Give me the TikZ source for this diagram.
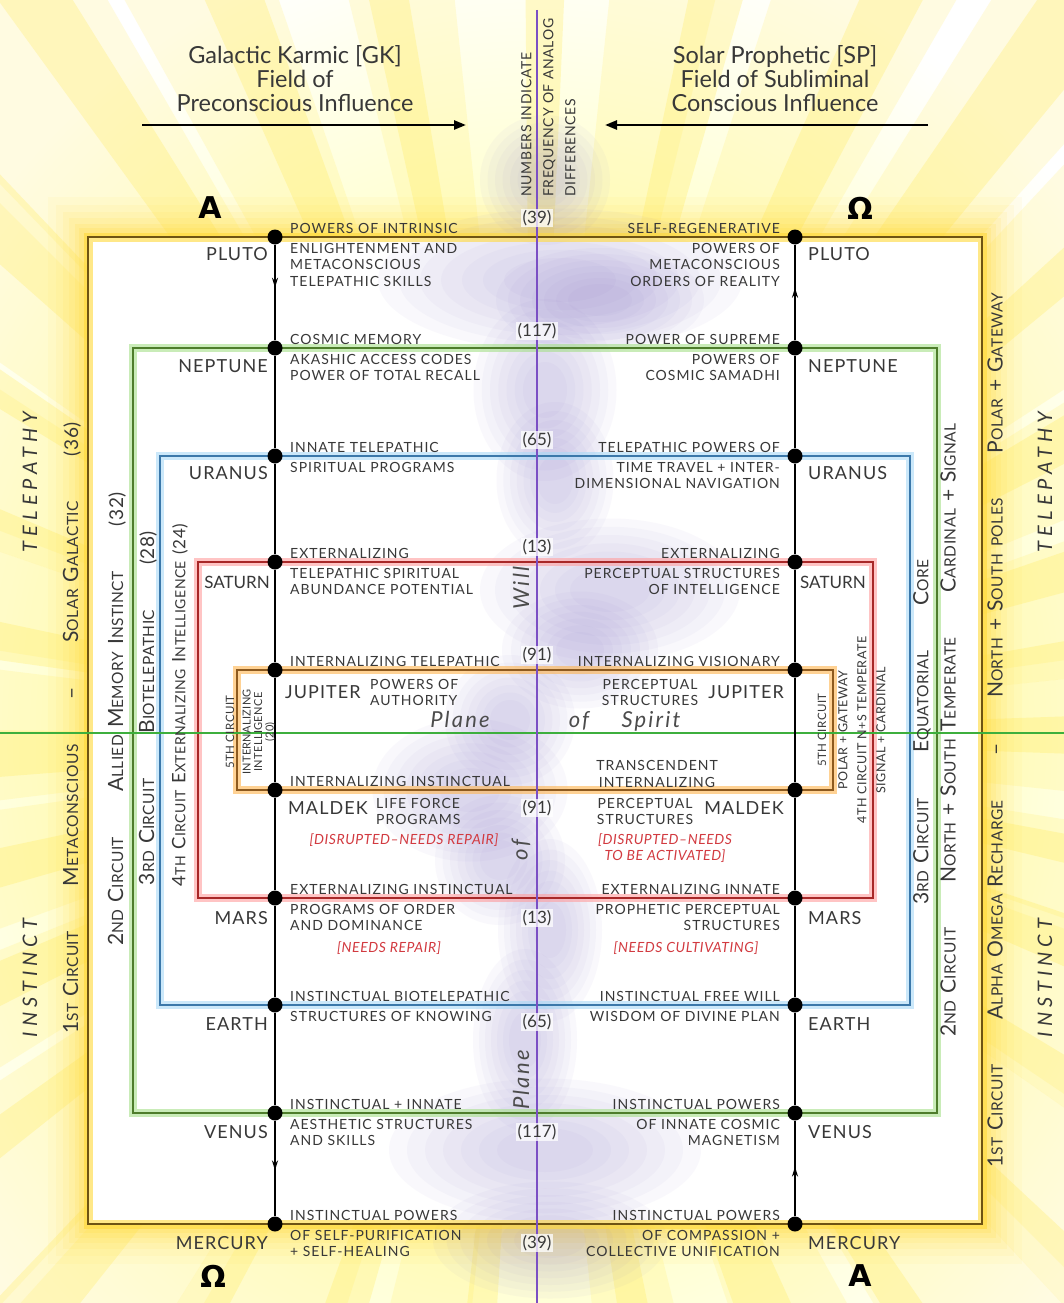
\documentclass[tikz,border=0pt]{standalone}
\usepackage{fontspec}
\setmainfont{Lato}
\newfontfamily\symf{DejaVu Sans}
\usetikzlibrary{arrows.meta,decorations.markings}
\definecolor{txtc}{HTML}{383838}
\definecolor{redt}{HTML}{D23A40}
\definecolor{ybor}{HTML}{6E5413}
\definecolor{yglow}{HTML}{FFD93A}
\definecolor{gbor}{HTML}{4E7D2B}
\definecolor{gglow}{HTML}{A6E08A}
\definecolor{bbor}{HTML}{3B78AA}
\definecolor{bglow}{HTML}{A9DAF7}
\definecolor{rbor}{HTML}{A82828}
\definecolor{rglow}{HTML}{FF9E9E}
\definecolor{obor}{HTML}{8E5A1E}
\definecolor{oglow}{HTML}{FFB44D}
\definecolor{eqc}{HTML}{3DAF3D}
\definecolor{purl}{HTML}{7B4FC4}
\definecolor{hazec}{HTML}{8C7CCB}
\definecolor{rayc}{HTML}{FFE94A}
\newcommand\SCa[2]{{\fontsize{21}{21}\selectfont #1}{\fontsize{15.5}{15.5}\selectfont #2}}
\newcommand\SCb[2]{{\fontsize{18.5}{18.5}\selectfont #1}{\fontsize{14}{14}\selectfont #2}}
\newcommand\gapA{\hspace{45pt}}
\newcommand\wsp{\hspace{7pt}}
\newcommand\haze[4]{\foreach \s in {1.3,1.15,1,0.85,0.7,0.55,0.4}{\fill[hazec,opacity=0.047] (#1,#2) ellipse [x radius=\s*#3, y radius=\s*#4];}}
\begin{document}
\begin{tikzpicture}[x=1pt,y=-1pt,
  lab/.style={font=\fontsize{14}{16.5}\selectfont\addfontfeatures{LetterSpace=7}, text=txtc, inner sep=0pt},
  labL/.style={lab, anchor=north west, align=left},
  labR/.style={lab, anchor=north east, align=right},
  labC/.style={lab, anchor=north, align=center},
  upL/.style={lab, anchor=base west},
  upR/.style={lab, anchor=base east},
  planetL/.style={font=\fontsize{18}{18}\selectfont\addfontfeatures{LetterSpace=6}, text=txtc, inner sep=0pt, anchor=base east},
  planetR/.style={font=\fontsize{18}{18}\selectfont\addfontfeatures{LetterSpace=6}, text=txtc, inner sep=0pt, anchor=base west},
  num/.style={font=\fontsize{17}{17}\selectfont, text=txtc, inner sep=1.5pt, fill=white, fill opacity=0.75, text opacity=1},
  pdot/.style={circle, fill=black, inner sep=0pt, minimum size=15pt},
  redlab/.style={font=\fontsize{14}{16.5}\itshape\selectfont\addfontfeatures{LetterSpace=4}, text=redt, inner sep=0pt, align=center},
  vline/.style={black, line width=2.4pt},
  midarrow/.style={postaction={decorate}, decoration={markings, mark=at position #1 with {\arrow{Stealth[length=10pt,width=6pt]}}}},
  side/.style={text=txtc, inner sep=0pt, rotate=90, font=\addfontfeatures{LetterSpace=3}},
  tiny/.style={font=\fontsize{11.5}{12}\selectfont\addfontfeatures{LetterSpace=4}, text=txtc, inner sep=0pt, rotate=90, align=center},
  bigit/.style={font=\fontsize{22}{22}\itshape\selectfont\addfontfeatures{LetterSpace=10}, text=txtc!90, inner sep=0pt},
  wide/.style={font=\fontsize{20}{20}\itshape\selectfont\addfontfeatures{LetterSpace=25}, text=txtc, inner sep=0pt, rotate=90},
  title/.style={font=\fontsize{23.5}{24}\selectfont, text=txtc, align=center, inner sep=0pt},
  omega/.style={font=\symf\bfseries\fontsize{30}{30}\selectfont, text=black, inner sep=0pt},
  toparrow/.style={line width=2.5pt, -{Triangle[length=12pt,width=9pt]}}
]
\useasboundingbox (0,0) rectangle (1064,1303);
\clip (0,0) rectangle (1064,1303);
% background
\fill[white] (0,0) rectangle (1064,1303);
\shade[inner color=yellow!50, outer color=white] (532,735) ellipse [x radius=720, y radius=820];
\foreach \a/\w in {0/6,14/5,27/7,40/5,53/6,66/5,80/4,100/4,114/6,127/5,140/7,153/5,166/6,180/7,194/5,207/6,220/5,233/7,246/5,260/4,280/4,294/6,307/5,320/7,333/5,346/6}
  {\fill[rayc, opacity=0.16, shift={(532,735)}] (0,0) -- (\a-\w:1600) -- (\a+\w:1600) -- cycle;}
\foreach \a/\w in {0/2,12/1.5,21/2.5,33/2,45/2,57/1.5,68/2.5,80/1.5,95/1.5,108/2,120/2,131/2.5,143/1.5,155/2,166/2,178/2.5,190/2,201/2,213/1.5,224/2.5,236/2,248/2,259/1.5,271/1.5,284/2,296/2,307/2.5,319/1.5,331/2,343/2,352/2}
  {\fill[rayc, opacity=0.25, shift={(532,735)}] (0,0) -- (\a-\w:1600) -- (\a+\w:1600) -- cycle;}
\foreach \w/\o in {80/0.06,64/0.07,50/0.09,38/0.11,27/0.14,18/0.18}
  {\draw[yglow, line width=\w pt, opacity=\o] (88,237) rectangle (982,1224);}
\fill[white] (88,237) rectangle (982,1224);
% purple haze
\haze{545}{180}{50}{50}
\haze{560}{280}{140}{55}
\haze{600}{300}{80}{40}
\haze{545}{390}{55}{70}
\haze{555}{480}{45}{60}
\haze{610}{590}{100}{55}
\haze{580}{650}{60}{45}
\haze{510}{720}{50}{50}
\haze{470}{790}{75}{55}
\haze{500}{860}{50}{50}
\haze{550}{930}{40}{70}
\haze{525}{1040}{40}{70}
\haze{545}{1150}{120}{55}
\haze{550}{1240}{90}{45}
% circuit rectangles
\draw[yglow, line width=9pt, opacity=0.6] (88,237) rectangle (982,1224);
\draw[ybor, line width=2.4pt] (88,237) rectangle (982,1224);
\draw[gglow, line width=8pt, opacity=0.6] (133,348) rectangle (937,1113);
\draw[gbor, line width=2.2pt] (133,348) rectangle (937,1113);
\draw[bglow, line width=8pt, opacity=0.6] (160,456) rectangle (910,1005);
\draw[bbor, line width=2.2pt] (160,456) rectangle (910,1005);
\draw[rglow, line width=8pt, opacity=0.6] (198,562) rectangle (873,898);
\draw[rbor, line width=2.2pt] (198,562) rectangle (873,898);
\draw[oglow, line width=8pt, opacity=0.6] (237,670) rectangle (833,790);
\draw[obor, line width=2.2pt] (237,670) rectangle (833,790);
% equator and centre line
\draw[eqc, line width=1.2pt] (0,733) -- (1064,733);
\draw[purl, line width=1.3pt] (537,10) -- (537,1303);
% dots
\foreach \i/\y in {1/237,2/348,3/456,4/562,5/670,6/790,7/898,8/1005,9/1113,10/1224}{
  \node[pdot] (L\i) at (275,\y) {};
  \node[pdot] (R\i) at (795,\y) {};
}
\draw[vline] (L1) -- (L2) -- (L3) -- (L4) -- (L5) -- (L6) -- (L7) -- (L8) -- (L9) -- (L10);
\draw[vline] (R1) -- (R2) -- (R3) -- (R4) -- (R5) -- (R6) -- (R7) -- (R8) -- (R9) -- (R10);
\draw[vline, midarrow=0.45] (L1) -- (L2);
\draw[vline, midarrow=0.52] (L9) -- (L10);
\draw[vline, midarrow=0.55] (R2) -- (R1);
\draw[vline, midarrow=0.52] (R10) -- (R9);
% top titles and arrows
\node[title] (gk) at (295,79) {Galactic Karmic [GK]\\Field of\\Preconscious Influence};
\node[title] (sp) at (775,79) {Solar Prophetic [SP]\\Field of Subliminal\\Conscious Influence};
\coordinate (gka) at (142,125); \coordinate (gkb) at (466,125);
\coordinate (spa) at (928,125); \coordinate (spb) at (605,125);
\draw[toparrow] (gka) -- (gkb);
\draw[toparrow] (spa) -- (spb);
\node[rotate=90, anchor=north west, align=left, font=\fontsize{14}{22}\selectfont\addfontfeatures{LetterSpace=5}, text=txtc, inner sep=0pt] (numnote) at (521,197) {NUMBERS INDICATE\\FREQUENCY OF ANALOG\\DIFFERENCES};
% alpha omega
\node[omega] (a1) at (210,208) {A};
\node[omega] (o1) at (860,208) {Ω};
\node[omega] (o2) at (213,1276) {Ω};
\node[omega] (a2) at (860,1276) {A};
% numbers
\node[num] (n1) at (537,218) {(39)};
\node[num] (n2) at (537,331) {(117)};
\node[num] (n3) at (537,440) {(65)};
\node[num] (n4) at (537,547) {(13)};
\node[num] (n5) at (537,655) {(91)};
\node[num] (n6) at (537,808) {(91)};
\node[num] (n7) at (537,918) {(13)};
\node[num] (n8) at (537,1022) {(65)};
\node[num] (n9) at (537,1132) {(117)};
\node[num] (n10) at (537,1243) {(39)};
% planet names
\node[planetL] (pl1) at (268,260) {PLUTO};
\node[planetR] (pr1) at (808,260) {PLUTO};
\node[planetL] (pl2) at (268,372) {NEPTUNE};
\node[planetR] (pr2) at (808,372) {NEPTUNE};
\node[planetL] (pl3) at (268,479) {URANUS};
\node[planetR] (pr3) at (808,479) {URANUS};
\node[planetL, font=\fontsize{17}{17}\selectfont] (pl4) at (270,588) {SATURN};
\node[planetR, font=\fontsize{17}{17}\selectfont] (pr4) at (800,588) {SATURN};
\node[planetR] (pl5) at (285,698) {JUPITER};
\node[planetL] (pr5) at (784,698) {JUPITER};
\node[planetR] (pl6) at (288,814) {MALDEK};
\node[planetL] (pr6) at (784,814) {MALDEK};
\node[planetL] (pl7) at (268,924) {MARS};
\node[planetR] (pr7) at (808,924) {MARS};
\node[planetL] (pl8) at (268,1030) {EARTH};
\node[planetR] (pr8) at (808,1030) {EARTH};
\node[planetL] (pl9) at (268,1138) {VENUS};
\node[planetR] (pr9) at (808,1138) {VENUS};
\node[planetL] (pl10) at (268,1249) {MERCURY};
\node[planetR] (pr10) at (808,1249) {MERCURY};
% Pluto
\node[upL] (t1a) at (290,233) {POWERS OF INTRINSIC};
\node[labL] (t1b) at (290,243) {ENLIGHTENMENT AND\\METACONSCIOUS\\TELEPATHIC SKILLS};
\node[upR] (t1c) at (780,233) {SELF-REGENERATIVE};
\node[labR] (t1d) at (780,243) {POWERS OF\\METACONSCIOUS\\ORDERS OF REALITY};
% Neptune
\node[upL] (t2a) at (290,344) {COSMIC MEMORY};
\node[labL] (t2b) at (290,354) {AKASHIC ACCESS CODES\\POWER OF TOTAL RECALL};
\node[upR] (t2c) at (780,344) {POWER OF SUPREME};
\node[labR] (t2d) at (780,354) {POWERS OF\\COSMIC SAMADHI};
% Uranus
\node[upL] (t3a) at (290,452) {INNATE TELEPATHIC};
\node[labL] (t3b) at (290,462) {SPIRITUAL PROGRAMS};
\node[upR] (t3c) at (780,452) {TELEPATHIC POWERS OF};
\node[labR] (t3d) at (780,462) {TIME TRAVEL + INTER-\\DIMENSIONAL NAVIGATION};
% Saturn
\node[upL] (t4a) at (290,558) {EXTERNALIZING};
\node[labL] (t4b) at (290,568) {TELEPATHIC SPIRITUAL\\ABUNDANCE POTENTIAL};
\node[upR] (t4c) at (780,558) {EXTERNALIZING};
\node[labR] (t4d) at (780,568) {PERCEPTUAL STRUCTURES\\OF INTELLIGENCE};
% Jupiter
\node[upL] (t5a) at (290,666) {INTERNALIZING TELEPATHIC};
\node[upR] (t5c) at (780,666) {INTERNALIZING VISIONARY};
\node[labL] (t5b) at (370,679) {POWERS OF\\AUTHORITY};
\node[labC] (t5d) at (650,679) {PERCEPTUAL\\STRUCTURES};
\node[bigit, anchor=base] (ps1) at (460,727) {Plane};
\node[bigit, anchor=base] (ps2) at (579,727) {of};
\node[bigit, anchor=base] (ps3) at (651,727) {Spirit};
% Maldek
\node[upL] (t6a) at (290,786) {INTERNALIZING INSTINCTUAL};
\node[labC] (t6c) at (657,760.5) {TRANSCENDENT\\INTERNALIZING};
\node[labL] (t6b) at (376,798) {LIFE FORCE\\PROGRAMS};
\node[labC] (t6d) at (645,798) {PERCEPTUAL\\STRUCTURES};
\node[redlab] (r1) at (404,840) {[DISRUPTED–NEEDS REPAIR]};
\node[redlab] (r2) at (665,848) {[DISRUPTED–NEEDS\\TO BE ACTIVATED]};
% Mars
\node[upL] (t7a) at (290,894) {EXTERNALIZING INSTINCTUAL};
\node[labL] (t7b) at (290,904) {PROGRAMS OF ORDER\\AND DOMINANCE};
\node[upR] (t7c) at (780,894) {EXTERNALIZING INNATE};
\node[labR] (t7d) at (780,904) {PROPHETIC PERCEPTUAL\\STRUCTURES};
\node[redlab] (r3) at (389,948) {[NEEDS REPAIR]};
\node[redlab] (r4) at (686,948) {[NEEDS CULTIVATING]};
% Earth
\node[upL] (t8a) at (290,1001) {INSTINCTUAL BIOTELEPATHIC};
\node[labL] (t8b) at (290,1011) {STRUCTURES OF KNOWING};
\node[upR] (t8c) at (780,1001) {INSTINCTUAL FREE WILL};
\node[labR] (t8d) at (780,1011) {WISDOM OF DIVINE PLAN};
% Venus
\node[upL] (t9a) at (290,1109) {INSTINCTUAL + INNATE};
\node[labL] (t9b) at (290,1119) {AESTHETIC STRUCTURES\\AND SKILLS};
\node[upR] (t9c) at (780,1109) {INSTINCTUAL POWERS};
\node[labR] (t9d) at (780,1119) {OF INNATE COSMIC\\MAGNETISM};
% Mercury
\node[upL] (t10a) at (290,1220) {INSTINCTUAL POWERS};
\node[labL] (t10b) at (290,1230) {OF SELF-PURIFICATION\\+ SELF-HEALING};
\node[upR] (t10c) at (780,1220) {INSTINCTUAL POWERS};
\node[labR] (t10d) at (780,1230) {OF COMPASSION +\\COLLECTIVE UNIFICATION};
% plane of will
\node[bigit, rotate=90] (pw1) at (521,588) {Will};
\node[bigit, rotate=90] (pw2) at (521,850) {of};
\node[bigit, rotate=90] (pw3) at (521,1080) {Plane};
% side texts left
\node[wide] (tel1) at (30,482) {TELEPATHY};
\node[wide] (ins1) at (30,978) {INSTINCT};
\node[side] (c1L) at (72,728) {\SCa{1}{ST}\wsp\SCa{C}{IRCUIT}\gapA\SCa{M}{ETACONSCIOUS}\gapA{\fontsize{21}{21}\selectfont –}\gapA\SCa{S}{OLAR}\wsp\SCa{G}{ALACTIC}\gapA{\fontsize{19}{19}\selectfont (36)}};
\node[side] (c2L) at (117,719) {\SCa{2}{ND}\wsp\SCa{C}{IRCUIT}\gapA\SCa{A}{LLIED}\wsp\SCa{M}{EMORY}\wsp\SCa{I}{NSTINCT}\gapA{\fontsize{19}{19}\selectfont (32)}};
\node[side] (c3L) at (148,708) {\SCa{3}{RD}\wsp\SCa{C}{IRCUIT}\gapA\SCa{B}{IOTELEPATHIC}\gapA{\fontsize{19}{19}\selectfont (28)}};
\node[side] (c4L) at (180,705) {\SCb{4}{TH}\wsp\SCb{C}{IRCUIT}\wsp\SCb{E}{XTERNALIZING}\wsp\SCb{I}{NTELLIGENCE}\wsp{\fontsize{17}{17}\selectfont (24)}};
\node[tiny] (c5La) at (230,732) {5TH CIRCUIT};
\node[tiny, font=\fontsize{11}{11.5}\selectfont\addfontfeatures{LetterSpace=3}] (c5Lb) at (259,732) {INTERNALIZING\\INTELLIGENCE\\(20)};
% side texts right
\node[tiny] (c5Ra) at (822,730) {5TH CIRCUIT};
\node[tiny, font=\fontsize{12.5}{19}\selectfont\addfontfeatures{LetterSpace=4}] (c4R) at (862,730) {POLAR + GATEWAY\\4TH CIRCUIT N+S TEMPERATE\\SIGNAL + CARDINAL};
\node[side] (c3R) at (922,732) {\SCa{3}{RD}\wsp\SCa{C}{IRCUIT}\gapA\SCa{E}{QUATORIAL}\gapA\SCa{C}{ORE}};
\node[side] (c2R) at (948,730) {\SCa{2}{ND}\wsp\SCa{C}{IRCUIT}\gapA\SCa{N}{ORTH}\wsp{\fontsize{21}{21}\selectfont +}\wsp\SCa{S}{OUTH}\wsp\SCa{T}{EMPERATE}\gapA\SCa{C}{ARDINAL}\wsp{\fontsize{21}{21}\selectfont +}\wsp\SCa{S}{IGNAL}};
\node[side] (c1R) at (995,730) {\SCa{1}{ST}\wsp\SCa{C}{IRCUIT}\gapA\SCa{A}{LPHA}\wsp\SCa{O}{MEGA}\wsp\SCa{R}{ECHARGE}\gapA{\fontsize{21}{21}\selectfont –}\gapA\SCa{N}{ORTH}\wsp{\fontsize{21}{21}\selectfont +}\wsp\SCa{S}{OUTH}\wsp{\fontsize{15.5}{15.5}\selectfont POLES}\gapA\SCa{P}{OLAR}\wsp{\fontsize{21}{21}\selectfont +}\wsp\SCa{G}{ATEWAY}};
\node[wide] (tel2) at (1045,482) {TELEPATHY};
\node[wide] (ins2) at (1045,978) {INSTINCT};
\end{tikzpicture}
\end{document}
